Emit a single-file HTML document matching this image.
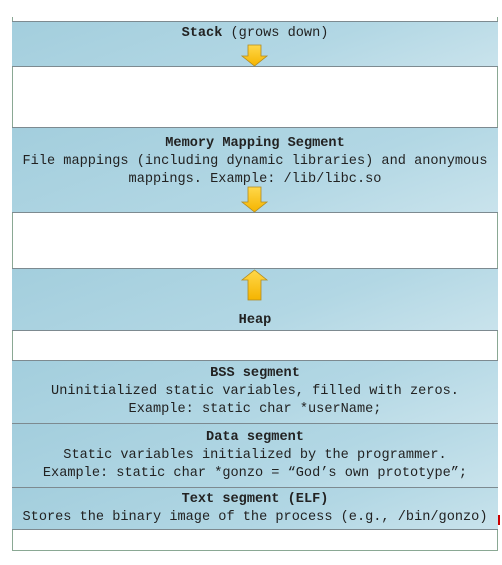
<!DOCTYPE html>
<html><head><style>
body{margin:0;width:502px;height:565px;background:#fff;position:relative;overflow:hidden;font-family:"Liberation Mono",monospace;font-size:13.6px;color:#222}
.frame{position:absolute;left:12px;top:17px;width:484px;height:533px;border-left:1.5px solid #8aa894;border-right:1.5px solid #8aa894;border-bottom:1.5px solid #8aa894}
.band{position:absolute;left:12px;width:486px;background:linear-gradient(160deg,#a3cedd 0%,#b2d7e4 60%,#c9e3ec 100%);border-top:1.5px solid #7d8a90;border-bottom:1.5px solid #7d8a90;text-align:center;line-height:18px;box-sizing:border-box;white-space:nowrap}
b{font-weight:bold}
svg{position:absolute}
</style></head><body>
<div class="frame"></div>
<div class="band" style="top:21px;height:46px;padding-top:3px"><b>Stack</b> (grows down)</div>
<div class="band" style="top:127px;height:86px;padding-top:7px"><b>Memory Mapping Segment</b><br>File mappings (including dynamic libraries) and anonymous<br>mappings. Example: /lib/libc.so</div>
<div class="band" style="top:268px;height:63px;padding-top:43px"><b>Heap</b></div>
<div class="band" style="top:360px;height:64px;padding-top:4px"><b>BSS segment</b><br>Uninitialized static variables, filled with zeros.<br>Example: static char *userName;</div>
<div class="band" style="top:423px;height:65px;padding-top:5px"><b>Data segment</b><br>Static variables initialized by the programmer.<br>Example: static char *gonzo = “God’s own prototype”;</div>
<div class="band" style="top:487px;height:43px;padding-top:3px"><b>Text segment (ELF)</b><br>Stores the binary image of the process (e.g., /bin/gonzo)</div>
<svg width="502" height="565" style="left:0;top:0">
<defs><linearGradient id="g" x1="0" y1="0" x2="0" y2="1"><stop offset="0" stop-color="#ffd84a"/><stop offset="1" stop-color="#f5b400"/></linearGradient></defs>
<polygon points="248,45 261,45 261,56 267,56 254.5,66 242,56 248,56" fill="url(#g)" stroke="#b08a20" stroke-width="0.8"/>
<polygon points="248,187 261,187 261,202 267,202 254.5,212 242,202 248,202" fill="url(#g)" stroke="#b08a20" stroke-width="0.8"/>
<polygon points="248,300 261,300 261,280 267,280 254.5,270 242,280 248,280" fill="url(#g)" stroke="#b08a20" stroke-width="0.8"/>
<rect x="498" y="515" width="2" height="10" fill="#c00"/>
</svg>
</body></html>
